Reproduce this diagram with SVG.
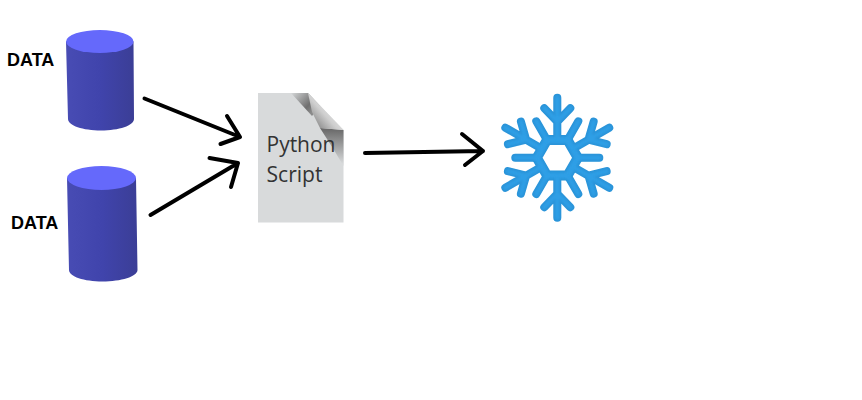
<svg xmlns="http://www.w3.org/2000/svg" xmlns:xlink="http://www.w3.org/1999/xlink" width="862" height="400" viewBox="0 0 862 400">
<style>
.lbl{font-family:"Liberation Sans",Arial,sans-serif;font-weight:bold;font-size:18px;fill:#000}
.doc{font-family:"Open Sans","Noto Sans",sans-serif;font-size:21px;fill:#333}
.arrow{fill:none;stroke:#000;stroke-width:4;stroke-linecap:round;stroke-linejoin:round}
.top{fill:#6569fb}
.body{fill:url(#cyl)}
.flk{fill:none;stroke-linecap:round;stroke-linejoin:round}
</style>
<defs>
<linearGradient id="cyl" x1="0" x2="1" y1="0" y2="0">
<stop offset="0" stop-color="#484cb4"/><stop offset="0.5" stop-color="#4044ac"/><stop offset="1" stop-color="#3b3e96"/>
</linearGradient>
<linearGradient id="fold1" gradientUnits="userSpaceOnUse" x1="291" y1="92" x2="312" y2="112">
<stop offset="0" stop-color="#d8dadb"/><stop offset="0.75" stop-color="#6f6f6f"/><stop offset="1" stop-color="#8a8a8a"/>
</linearGradient>
<linearGradient id="fold2" gradientUnits="userSpaceOnUse" x1="334" y1="128" x2="334" y2="164">
<stop offset="0" stop-color="#666"/><stop offset="1" stop-color="#d8dadb"/>
</linearGradient>
<linearGradient id="fold3" gradientUnits="userSpaceOnUse" x1="310" y1="120" x2="328" y2="104">
<stop offset="0" stop-color="#8a8a8a"/><stop offset="0.6" stop-color="#cfcfcf"/><stop offset="1" stop-color="#e2e2e2"/>
</linearGradient>
<g id="arm">
<path d="M0-20V-60M0-36L-13-49.500M0-36L13-49.500"/>
</g>
<g id="spur"><path d="M0-20V-42"/></g>
<polygon id="ring" points="20.500,0 10.250,-17.750 -10.250,-17.750 -20.500,0 -10.250,17.750 10.250,17.750"/>
<g id="flake">
<use xlink:href="#arm"/>
<use xlink:href="#arm" transform="rotate(60)"/>
<use xlink:href="#arm" transform="rotate(120)"/>
<use xlink:href="#arm" transform="rotate(180)"/>
<use xlink:href="#arm" transform="rotate(240)"/>
<use xlink:href="#arm" transform="rotate(300)"/>
<use xlink:href="#spur" transform="rotate(30)"/>
<use xlink:href="#spur" transform="rotate(90)"/>
<use xlink:href="#spur" transform="rotate(150)"/>
<use xlink:href="#spur" transform="rotate(210)"/>
<use xlink:href="#spur" transform="rotate(270)"/>
<use xlink:href="#spur" transform="rotate(330)"/>
</g>
<filter id="soft" x="-20%" y="-20%" width="140%" height="140%"><feGaussianBlur stdDeviation="1"/></filter>
</defs>
<g id="connectors">
<path class="arrow" d="M144.500 98.500L240 137M227 116L240 137L220.500 144"/>
<path class="arrow" d="M150.500 215L238 163M209.500 158L238 163L231 187"/>
<path class="arrow" d="M365 153L483 151M462 134L483 151L465 165"/>
</g>
<g id="data1">
<path class="body" d="M66 41.500L68 119C68 125.500 83 130.500 101 130.500C119 130.500 134 125.500 134 119L133.500 41.500Z"/>
<ellipse class="top" cx="99.800" cy="41.500" rx="33.700" ry="11.500"/>
<text class="lbl" x="7" y="66">DATA</text>
</g>
<g id="data2">
<path class="body" d="M67 178L69 270C69 276.500 84 281.500 102.500 281.500C121 281.500 137.500 276.500 137.500 270L136 178Z"/>
<ellipse class="top" cx="101.500" cy="178" rx="34.500" ry="12"/>
<text class="lbl" x="11" y="229">DATA</text>
</g>
<g id="script">
<polygon points="258,93 308,93 343.500,130 343.500,222.500 258,222.500" fill="#d8dadb"/>
<polygon points="291,93 308,93 320,106 312,116" fill="url(#fold1)"/>
<polygon points="320,128 343.500,130 343.500,166 334,150" fill="url(#fold2)"/>
<polygon points="308,93 343.500,130 320,128 312,112" fill="url(#fold3)"/>
<text class="doc" x="266.500" y="152" textLength="69" lengthAdjust="spacingAndGlyphs">Python</text>
<text class="doc" x="266.500" y="182" textLength="56" lengthAdjust="spacingAndGlyphs">Script</text>
</g>
<g id="snowflake" transform="translate(557.300 157.700)">
<use xlink:href="#ring" class="flk" stroke="#2a93d8" stroke-width="10"/>
<use xlink:href="#flake" class="flk" stroke="#2a93d8" stroke-width="8"/>
<use xlink:href="#ring" class="flk" stroke="#2f9fe6" stroke-width="6" filter="url(#soft)"/>
<use xlink:href="#flake" class="flk" stroke="#2f9fe6" stroke-width="4" filter="url(#soft)"/>
</g>
</svg>
